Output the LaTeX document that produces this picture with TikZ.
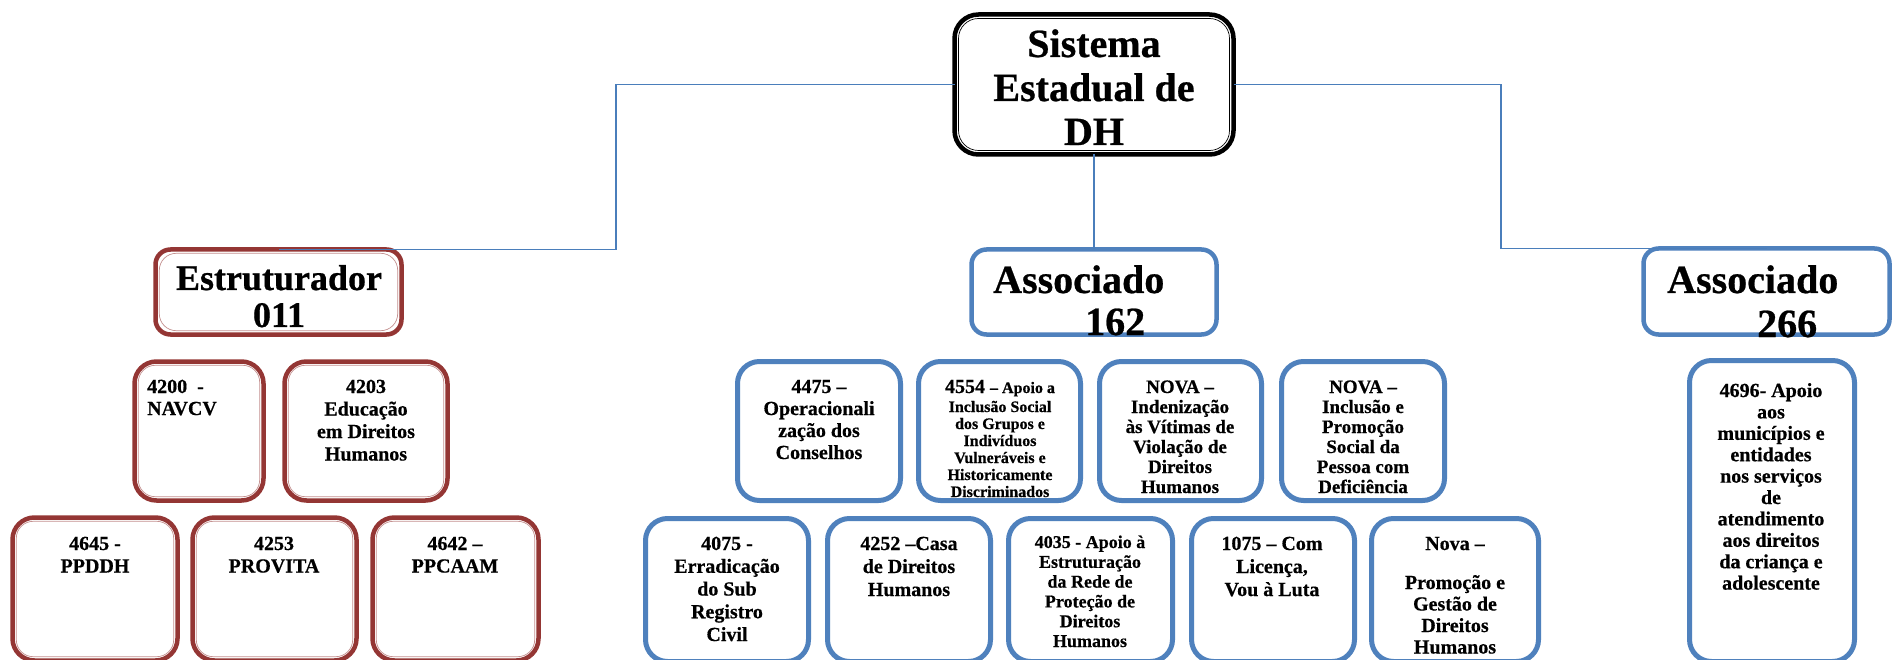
\documentclass[tikz,border=0pt]{standalone}
\usepackage{fontspec}
\setmainfont{Liberation Serif}[BoldFeatures={FakeBold=0.6}]
\definecolor{redc}{HTML}{943634}
\definecolor{bluec}{HTML}{4F81BD}
\definecolor{linec}{HTML}{4A7EBB}
\newcommand\mytxt[4]{\parbox[t]{#1pt}{\centering\fontsize{#2pt}{#3pt}\selectfont\bfseries #4}}
\newcommand\mkbox[6]{\node[#1, minimum width={#4-#3-5}, minimum height={#6-#5-5}] (#2) at ({(#3+#4)/2},{(#5+#6)/2}) {};}
\newcommand\innerline[4]{\draw[#1, line width=0.7pt, rounded corners=#3] ([xshift=#4,yshift=#4]#2.south west) rectangle ([xshift=-#4,yshift=-#4]#2.north east);}
\tikzset{
  basebox/.style={inner sep=0, outer sep=0, fill=white},
  redbox/.style={basebox, draw=redc, line width=4.5pt, rounded corners=22pt},
  bluebox/.style={basebox, draw=bluec, line width=5pt, rounded corners=22pt},
  blackbox/.style={basebox, draw=black, line width=4.5pt, rounded corners=24pt},
  redhead/.style={basebox, draw=redc, line width=4.5pt, rounded corners=15pt},
  bluehead/.style={basebox, draw=bluec, line width=4.5pt, rounded corners=15pt},
  conn/.style={draw=linec, line width=1.5pt},
  txt/.style={anchor=base, inner sep=0, text=black},
}
\begin{document}
\begin{tikzpicture}[x=1pt,y=-1pt]
\useasboundingbox (0,0) rectangle (1895,660);
\clip (0,0) rectangle (1895,660);
\fill[white] (0,0) rectangle (1895,660);
% boxes
\mkbox{blackbox}{top}{952}{1236}{12}{157}
\mkbox{redhead}{estr}{153}{404}{247}{337}
\mkbox{bluehead}{a162}{969}{1219}{247}{337}
\mkbox{bluehead}{a266}{1641}{1892}{246}{337}
\mkbox{redbox}{b4200}{132}{266}{359}{503}
\mkbox{redbox}{b4203}{282}{450}{359}{503}
\mkbox{bluebox}{b4475}{735}{903}{359}{503}
\mkbox{bluebox}{b4554}{916}{1083}{359}{503}
\mkbox{bluebox}{bnova1}{1097}{1264}{359}{503}
\mkbox{bluebox}{bnova2}{1279}{1447}{359}{503}
\mkbox{bluebox}{b4696}{1687}{1857}{358}{664}
\mkbox{redbox}{b4645}{10}{180}{515}{663}
\mkbox{redbox}{b4253}{190}{359}{515}{663}
\mkbox{redbox}{b4642}{370}{541}{515}{663}
\mkbox{bluebox}{b4075}{643}{811}{516}{664}
\mkbox{bluebox}{b4252}{825}{993}{516}{664}
\mkbox{bluebox}{b4035}{1006}{1175}{516}{664}
\mkbox{bluebox}{b1075}{1189}{1357}{516}{664}
\mkbox{bluebox}{bnova3}{1369}{1541}{516}{664}
\foreach \n in {b4200,b4203,b4645,b4253,b4642,estr} {\innerline{redc!55}{\n}{17pt}{3.8pt}}
\innerline{black}{top}{20pt}{4pt}
% texts
\node[txt] (ttop) at (1094,57) {\mytxt{270}{40}{44}{Sistema\\Estadual de\\DH}};
\node[txt] (testr) at (279,290) {\mytxt{240}{36}{37}{Estruturador\\011}};
\node[txt, anchor=base west] (t162a) at (993,293) {\fontsize{40pt}{40pt}\selectfont\bfseries Associado};
\node[txt, anchor=base west] (t162b) at (1085,335) {\fontsize{40pt}{40pt}\selectfont\bfseries 162};
\node[txt, anchor=base west] (t266a) at (1667,293) {\fontsize{40pt}{40pt}\selectfont\bfseries Associado};
\node[txt, anchor=base west] (t266b) at (1757,337) {\fontsize{40pt}{40pt}\selectfont\bfseries 266};
\node[txt, anchor=base west] (t4200) at (147,393) {\parbox[t]{110pt}{\raggedright\fontsize{20pt}{22pt}\selectfont\bfseries 4200\ \ -\\NAVCV}};
\node[txt] (t4203) at (366,393) {\mytxt{160}{20}{22.5}{4203\\Educação\\em Direitos\\Humanos}};
\node[txt] (t4475) at (819,393) {\mytxt{160}{20}{22}{4475 –\\Operacionali\\zação dos\\Conselhos}};
\node[txt] (t4554a) at (1000,393) {\fontsize{20pt}{22pt}\selectfont\bfseries 4554 {\fontsize{16pt}{17pt}\selectfont – Apoio a}};
\node[txt] (t4554b) at (1000,412) {\mytxt{160}{16}{17}{Inclusão Social\\dos Grupos e\\Indivíduos\\Vulneráveis e\\Historicamente\\Discriminados}};
\node[txt] (tnova1) at (1180,393) {\mytxt{160}{19}{20}{NOVA –\\Indenização\\às Vítimas de\\Violação de\\Direitos\\Humanos}};
\node[txt] (tnova2) at (1363,393) {\mytxt{160}{19}{20}{NOVA –\\Inclusão e\\Promoção\\Social da\\Pessoa com\\Deficiência}};
\node[txt] (t4696) at (1771,397) {\mytxt{160}{20}{21.4}{4696- Apoio\\aos\\municípios e\\entidades\\nos serviços\\de\\atendimento\\aos direitos\\da criança e\\adolescente}};
\node[txt] (t4645) at (95,550) {\mytxt{160}{20}{22.5}{4645 -\\PPDDH}};
\node[txt] (t4253) at (274,550) {\mytxt{160}{20}{22.5}{4253\\PROVITA}};
\node[txt] (t4642) at (455,550) {\mytxt{160}{20}{22.5}{4642 –\\PPCAAM}};
\node[txt] (t4075) at (727,550) {\mytxt{160}{20}{22.75}{4075 -\\Erradicação\\do Sub\\Registro\\Civil}};
\node[txt] (t4252) at (909,550) {\mytxt{160}{20}{23}{4252 –Casa\\de Direitos\\Humanos}};
\node[txt] (t4035) at (1090,548) {\mytxt{160}{18}{19.8}{4035 - Apoio à\\Estruturação\\da Rede de\\Proteção de\\Direitos\\Humanos}};
\node[txt] (t1075) at (1272,550) {\mytxt{160}{20}{23}{1075 – Com\\Licença,\\Vou à Luta}};
\node[txt] (tnova3a) at (1455,550) {\mytxt{160}{20}{22}{Nova –}};
\node[txt] (tnova3b) at (1455,589) {\mytxt{160}{20}{21.5}{Promoção e\\Gestão de\\Direitos\\Humanos}};
% connectors
\coordinate (lx) at (616,0);
\coordinate (rx) at (1501,0);
\draw[conn] (top.west) -| (lx |- estr.north) -- (estr.north);
\draw[conn] (top.south) -- (a162.north);
\draw[conn] (top.east) -| (rx |- a266.north) -- (a266.north);
\end{tikzpicture}
\end{document}
